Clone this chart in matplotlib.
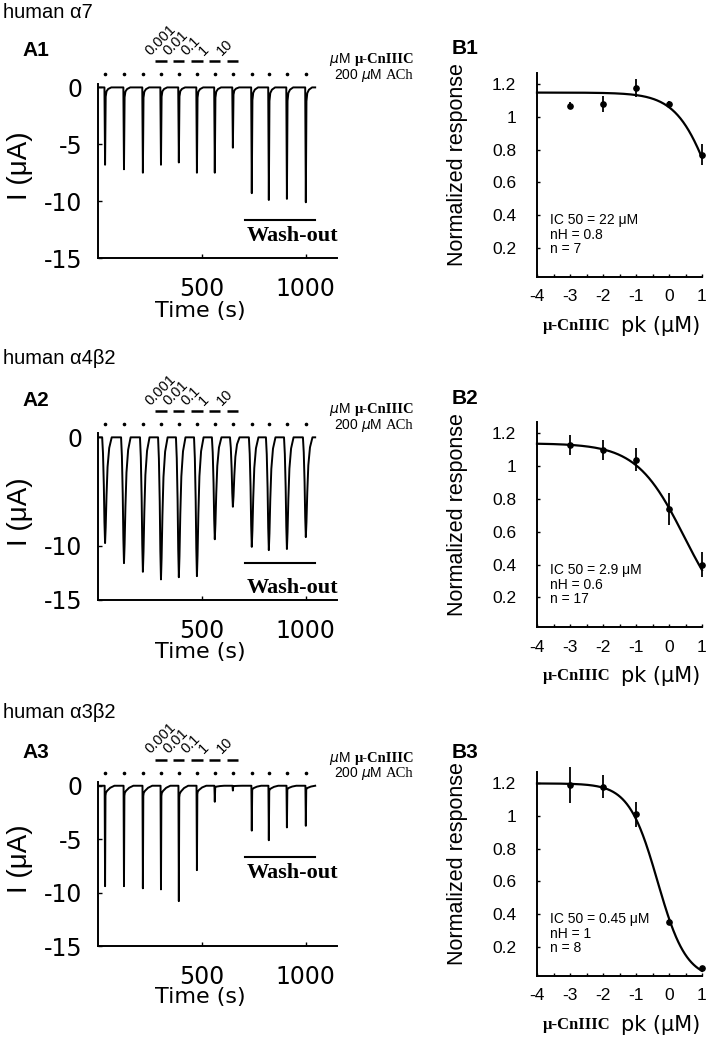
import matplotlib
matplotlib.use('Agg')
import matplotlib.pyplot as plt
import numpy as np
from matplotlib.transforms import offset_copy, blended_transform_factory

plt.rcParams['font.family'] = ['Liberation Sans', 'DejaVu Sans']
plt.rcParams['axes.unicode_minus'] = False
plt.rcParams['mathtext.fontset'] = 'dejavusans'

# ---- data ----
# ACh application times (s) and peak currents (uA) of the example traces
pulse_t = [34, 125, 216, 303, 389, 476, 562, 649, 740, 822, 909, 1000]
amp_a7 = [-6.8, -7.2, -7.5, -6.8, -6.6, -7.5, -7.5, -5.3, -9.3, -9.9, -9.8, -10.1]
amp_a4b2 = [-9.75, -11.6, -12.4, -13.1, -12.9, -12.8, -9.4, -6.4, -10.1, -10.4, -10.3, -9.2]
amp_a3b2 = [-9.4, -9.4, -9.6, -9.7, -10.8, -7.9, -1.5, -0.45, -4.2, -5.1, -3.9, -3.75]
dose_labels = ['0.001', '0.01', '0.1', '1', '10']
dose_pulse = [3, 4, 5, 6, 7]
washout_t = [707, 1043]

# concentration-response (log uM) with SEM
log_conc = [-3, -2, -1, 0, 1]
resp_a7 = [1.07, 1.08, 1.18, 1.08, 0.77]
err_a7 = [0.02, 0.05, 0.055, 0.02, 0.065]
resp_a4b2 = [1.13, 1.10, 1.04, 0.74, 0.40]
err_a4b2 = [0.06, 0.06, 0.07, 0.095, 0.075]
resp_a3b2 = [1.19, 1.18, 1.01, 0.35, 0.07]
err_a3b2 = [0.11, 0.07, 0.075, 0.02, 0.01]
# Hill fits given in the panels
fit_top = [1.15, 1.14, 1.2]
fit_ic50 = [22, 2.9, 0.45]
fit_nh = [0.8, 0.6, 1]
fit_n = [7, 17, 8]

# pulse shapes (time offset in s, fraction of peak)
shape_fast = ([-3, 0, 3, 7, 15, 30], [0, 1, 0.12, 0.05, 0.02, 0])
shape_slow = ([-14, -10, -6, -3, 0, 3, 7, 12, 20, 32],
              [0, 0.15, 0.45, 0.8, 1, 0.85, 0.55, 0.28, 0.1, 0])
shape_shoulder = ([-2, 0, 2, 4, 10, 25, 45], [0, 1, 0.1, 0.07, 0.05, 0.02, 0])

W, H = 709, 1040
fig = plt.figure(figsize=(W / 100, H / 100), dpi=100)


def px_axes(l, t, r, b):
    return fig.add_axes([l / W, 1 - b / H, (r - l) / W, (b - t) / H])


def build_trace(amps, shape):
    dt, fr = shape
    t, y = [0], [0]
    for tp, a in zip(pulse_t, amps):
        for d, f in zip(dt, fr):
            t.append(tp + d)
            y.append(a * f)
    t.append(1045)
    y.append(0)
    return t, y


def row_tr(ax, dy, xaxes=False):
    base = blended_transform_factory(ax.transAxes, ax.transData) if xaxes else ax.transData
    return offset_copy(base, fig=fig, y=dy, units='points')


def trace_panel(box, amps, shape, ylim_top, yticks, wash_y, text_y, header, tag, hdr_y, tag_y):
    ax = px_axes(*box)
    t, y = build_trace(amps, shape)
    ax.plot(t, y, color='black', lw=1.4)
    ax.set_xlim(0, 1150)
    ax.set_ylim(-15, ylim_top)
    for s in ['top', 'right']:
        ax.spines[s].set_visible(False)
    for s in ['left', 'bottom']:
        ax.spines[s].set_linewidth(1.4)
    ax.set_xticks([500, 1000])
    ax.set_yticks(yticks)
    ax.tick_params(axis='both', direction='in', length=3, width=1, labelsize=17,
                   labelfontfamily='DejaVu Sans')
    ax.tick_params(axis='x', pad=14)
    ax.tick_params(axis='y', pad=11)
    ax.set_xlabel('Time (s)', fontsize=16, family='DejaVu Sans')
    ax.xaxis.set_label_coords(0.43, -0.25)
    ax.set_ylabel('I (μA)', fontsize=20)
    ax.yaxis.set_label_coords(-0.272, 0.53)

    # ACh dots and toxin bars
    ax.plot(pulse_t, [0] * len(pulse_t), ls='none', marker='o', ms=1.6, color='black',
            transform=row_tr(ax, 9.4), clip_on=False)
    bar_tr = row_tr(ax, 18.7)
    lab_tr = row_tr(ax, 21.0)
    for lab, i in zip(dose_labels, dose_pulse):
        tp = pulse_t[i]
        ax.plot([tp - 28, tp + 27], [0, 0], color='black', lw=1.8, transform=bar_tr,
                clip_on=False, solid_capstyle='butt')
        ax.text(tp - 42, 0, lab, transform=lab_tr, rotation=45, rotation_mode='anchor',
                ha='left', va='bottom', fontsize=10.5)
    t1 = ax.text(1.322, 0, 'μ-CnIIIC', transform=row_tr(ax, 19.8, True), ha='right',
                 va='center', family='Liberation Serif', fontweight='bold', fontsize=10.5)
    ax.annotate(r'$\mu$M', xy=(0, 0.5), xycoords=t1, xytext=(-3, 0),
                textcoords='offset points', ha='right', va='center', fontsize=10)
    t2 = ax.text(1.322, 0, 'ACh', transform=row_tr(ax, 8.6, True), ha='right',
                 va='center', family='Liberation Serif', fontsize=10.5)
    ax.annotate(r'200 $\mu$M', xy=(0, 0.5), xycoords=t2, xytext=(-3, 0),
                textcoords='offset points', ha='right', va='center', fontsize=10)

    # wash-out
    ax.plot(washout_t, [wash_y, wash_y], color='black', lw=1.5)
    ax.text(716, text_y, 'Wash-out', ha='left', va='center', family='Liberation Serif',
            fontweight='bold', fontsize=16)

    fig.text(3 / W, 1 - hdr_y / H, header, ha='left', va='center', fontsize=14.5)
    fig.text(22 / W, 1 - tag_y / H, tag, ha='left', va='center', fontsize=15, fontweight='bold')
    return ax


def dose_panel(box, k, resp, err, tag, tag_y):
    ax = px_axes(*box)
    xs = np.linspace(-4, 1, 300)
    ys = fit_top[k] / (1 + (10 ** xs / fit_ic50[k]) ** fit_nh[k])
    ax.plot(xs, ys, color='black', lw=1.6, clip_on=False)
    ax.errorbar(log_conc, resp, yerr=err, fmt='o', color='black', ms=3.8,
                elinewidth=1.3, capsize=0, clip_on=False)
    ax.set_xlim(-4, 1)
    ax.set_ylim(0.02, 1.27)
    for s in ['top', 'right']:
        ax.spines[s].set_visible(False)
    for s in ['left', 'bottom']:
        ax.spines[s].set_linewidth(1.4)
    ax.set_xticks(range(-4, 2))
    ax.set_xticks(np.arange(-3.5, 1, 1), minor=True)
    ax.set_yticks([0.2, 0.4, 0.6, 0.8, 1.0, 1.2])
    ax.set_yticklabels(['0.2', '0.4', '0.6', '0.8', '1', '1.2'])
    ax.tick_params(axis='both', which='both', direction='in', length=2.5, width=1,
                   labelsize=12.5)
    ax.tick_params(axis='x', pad=9)
    ax.tick_params(axis='y', pad=15)
    ax.set_ylabel('Normalized response', fontsize=15.5)
    ax.yaxis.set_label_coords(-0.42, 0.55)
    t1 = ax.annotate('pk (μM)', xy=(1, 0), xycoords='axes fraction', xytext=(-1, -35),
                     textcoords='offset points', ha='right', va='center', fontsize=15,
                     family='DejaVu Sans')
    ax.annotate('μ-CnIIIC', xy=(0, 0.5), xycoords=t1, xytext=(-8, 0),
                textcoords='offset points', ha='right', va='center',
                family='Liberation Serif', fontweight='bold', fontsize=12)
    txt = 'IC 50 = %s μM\nnH = %s\nn = %d' % (fit_ic50[k], fit_nh[k], fit_n[k])
    ax.text(-3.6, 0.41, txt, ha='left', va='top', fontsize=10, linespacing=1.05)
    fig.text(452 / W, 1 - tag_y / H, tag, ha='left', va='center', fontsize=15, fontweight='bold')
    return ax


trace_panel((98, 84, 337, 258), amp_a7, shape_fast, 0.3, [0, -5, -10, -15],
            -11.7, -13.1, 'human α7', 'A1', 13, 50)
trace_panel((98, 433, 337, 600), amp_a4b2, shape_slow, 0.4, [0, -10, -15],
            -11.6, -13.9, 'human α4β2', 'A2', 358, 400)
trace_panel((98, 782, 337, 946), amp_a3b2, shape_shoulder, 0.35, [0, -5, -10, -15],
            -6.65, -8.15, 'human α3β2', 'A3', 713, 752)

dose_panel((537, 73, 702, 277), 0, resp_a7, err_a7, 'B1', 48)
dose_panel((537, 422, 702, 627), 1, resp_a4b2, err_a4b2, 'B2', 398)
dose_panel((537, 772, 702, 976), 2, resp_a3b2, err_a3b2, 'B3', 752)

fig.savefig('out.png', dpi=100)
